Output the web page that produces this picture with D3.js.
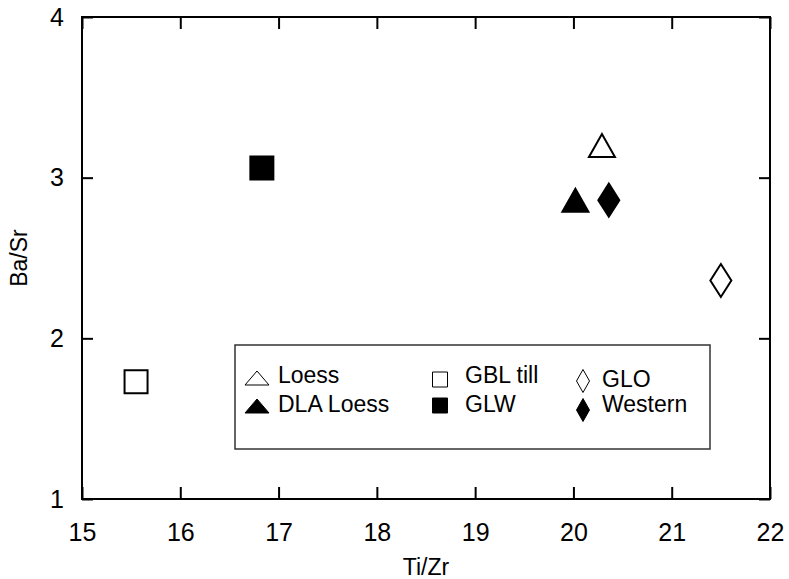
<!DOCTYPE html>
<html><head><meta charset="utf-8">
<script src="https://cdn.jsdelivr.net/npm/d3@7"></script>
<style>body{margin:0;background:#fff}svg{display:block;font-family:"Liberation Sans",Arial,sans-serif}</style>
</head><body><svg id="c" width="789" height="579"></svg>
<script>
const seriesNames = ["Loess","DLA Loess","GBL till","GLW","GLO","Western"];
const seriesShapes = ["triangle","triangle","square","square","diamond","diamond"];
const seriesFilled = [false,true,false,true,false,true];
const tiZr = [20.29, 20.02, 15.55, 16.83, 21.50, 20.36];
const baSr = [3.20, 2.86, 1.73, 3.06, 2.36, 2.86];
const xTicks = [15,16,17,18,19,20,21,22];
const yTicks = [1,2,3,4];
const xTitle = "Ti/Zr", yTitle = "Ba/Sr";

const svg = d3.select("#c");
const L=82,R=770,T=17,B=499;
const x = d3.scaleLinear().domain([15,22]).range([L,R]);
const y = d3.scaleLinear().domain([1,4]).range([B,T]);

function shapePath(s, w, h){
  if(s==="triangle") return `M0,${-h/2}L${w/2},${h/2}L${-w/2},${h/2}Z`;
  if(s==="square") return `M${-w/2},${-h/2}H${w/2}V${h/2}H${-w/2}Z`;
  return `M0,${-h/2}L${w/2},0L0,${h/2}L${-w/2},0Z`;
}
const plotSize = {triangle:[26,23],square:[23,23],diamond:[21,33]};
const legSize = {triangle:[24,14],square:[15,15],diamond:[13,23]};

const tk=12;
const FF="Liberation Sans, Arial, sans-serif";
const g = svg.append("g");
g.append("g").attr("transform",`translate(0,${B})`)
  .call(d3.axisBottom(x).tickValues(xTicks).tickSizeInner(-tk).tickSizeOuter(0).tickPadding(24).tickFormat(d3.format("d")))
  .call(a=>{a.select(".domain").remove();a.selectAll("line").attr("stroke","#000").attr("stroke-width",2);a.selectAll("text").attr("font-size",25).attr("fill","#000").attr("font-family",FF);});
g.append("g").attr("transform",`translate(0,${T})`)
  .call(d3.axisTop(x).tickValues(xTicks).tickSizeInner(-tk).tickSizeOuter(0).tickFormat(""))
  .call(a=>{a.select(".domain").remove();a.selectAll("line").attr("stroke","#000").attr("stroke-width",2);});
g.append("g").attr("transform",`translate(${L},0)`)
  .call(d3.axisLeft(y).tickValues(yTicks).tickSizeInner(-11).tickSizeOuter(0).tickPadding(18).tickFormat(d3.format("d")))
  .call(a=>{a.select(".domain").remove();a.selectAll("line").attr("stroke","#000").attr("stroke-width",2);a.selectAll("text").attr("font-size",25).attr("fill","#000").attr("font-family",FF);});
g.append("g").attr("transform",`translate(${R},0)`)
  .call(d3.axisRight(y).tickValues(yTicks).tickSizeInner(-11).tickSizeOuter(0).tickFormat(""))
  .call(a=>{a.select(".domain").remove();a.selectAll("line").attr("stroke","#000").attr("stroke-width",2);});
svg.append("rect").attr("x",L).attr("y",T).attr("width",R-L).attr("height",B-T)
  .attr("fill","none").attr("stroke","#000").attr("stroke-width",2);

svg.append("text").attr("x",(L+R)/2).attr("y",575).attr("text-anchor","middle").attr("font-size",23).text(xTitle);
svg.append("text").attr("transform",`translate(27,${(T+B)/2}) rotate(-90)`).attr("text-anchor","middle").attr("font-size",23).text(yTitle);

svg.append("g").selectAll("path").data(seriesNames).join("path")
  .attr("transform",(d,i)=>`translate(${x(tiZr[i])},${y(baSr[i])})`)
  .attr("d",(d,i)=>{const s=seriesShapes[i];return shapePath(s,plotSize[s][0],plotSize[s][1]);})
  .attr("fill",(d,i)=>seriesFilled[i]?"#000":"#fff")
  .attr("stroke","#000").attr("stroke-width",2).attr("stroke-linejoin","miter");

// legend
svg.append("rect").attr("x",235).attr("y",345).attr("width",475).attr("height",104)
  .attr("fill","#fff").attr("stroke","#333").attr("stroke-width",1.5);
const legX=[257,257,440,440,583,583];
const legY=[378,406,379.5,405.5,381,410];
const txtX=[278,278,465,465,602,602];
const txtY=[383,412,383,412,387,412];
const lg = svg.append("g").selectAll("g").data(seriesNames).join("g");
lg.append("path").attr("transform",(d,i)=>`translate(${legX[i]},${legY[i]})`)
  .attr("d",(d,i)=>{const s=seriesShapes[i];return shapePath(s,legSize[s][0],legSize[s][1]);})
  .attr("fill",(d,i)=>seriesFilled[i]?"#000":"#fff").attr("stroke","#000").attr("stroke-width",1);
lg.append("text").attr("x",(d,i)=>txtX[i]).attr("y",(d,i)=>txtY[i])
  .attr("font-size",23).text(d=>d);
</script></body></html>
